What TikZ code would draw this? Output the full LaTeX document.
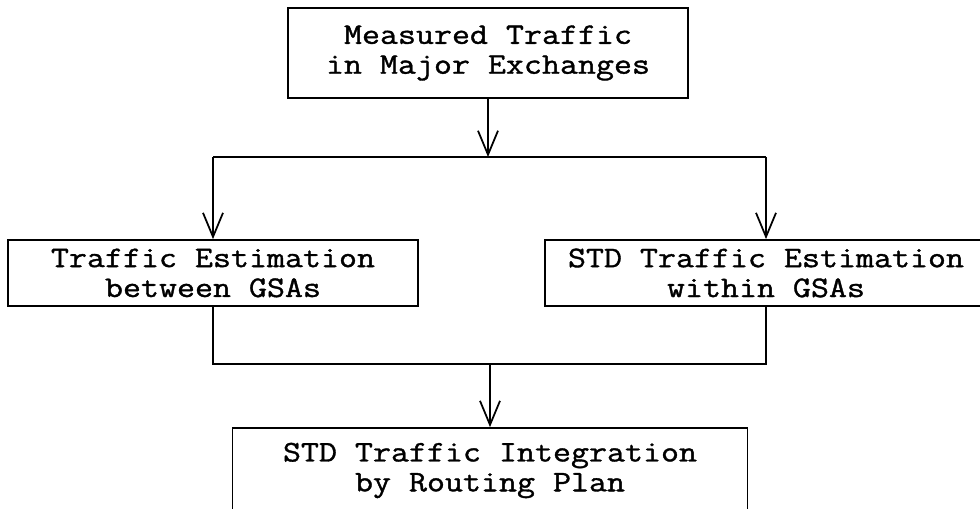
\documentclass[tikz,border=0pt]{standalone}
\usepackage{fontspec}
\setmonofont[FakeStretch=1.17, FakeBold=1.2]{Latin Modern Mono}
\usepackage{tikz}
\usetikzlibrary{arrows, arrows.meta}

\begin{document}
\begin{tikzpicture}[
  box/.style={draw, line width=1pt, inner sep=0pt, align=center,
    font=\ttfamily\fontsize{17}{17}\selectfont},
  flow/.style={line width=1pt},
  arr/.style={flow, -{Straight Barb[length=4.8mm,width=4mm,line width=1pt]}}
]
\useasboundingbox (0,0) rectangle (19.6,10.16);
\node[box, minimum width=8.0cm, minimum height=1.8cm] (meas) at (9.76,9.10)
  {Measured Traffic\\in Major Exchanges};
\node[box, minimum width=8.2cm, minimum height=1.32cm] (between) at (4.26,4.70)
  {Traffic Estimation\\between GSAs};
\node[box, minimum width=8.84cm, minimum height=1.32cm] (within) at (15.32,4.70)
  {STD Traffic Estimation\\within GSAs};
\node[box, minimum width=10.3cm, minimum height=1.7cm] (integ) at (9.80,0.75)
  {STD Traffic Integration\\by Routing Plan};
\coordinate (split) at (9.76,7.02);
\coordinate (join) at (9.80,2.88);
\draw[arr] (meas.south) -- (split);
\draw[flow] (between.north |- split) -- (within.north |- split);
\draw[arr] (between.north |- split) -- (between.north);
\draw[arr] (within.north |- split) -- (within.north);
\draw[flow] (between.south) |- (join) -| (within.south);
\draw[arr] (join) -- (integ.north);
\end{tikzpicture}
\end{document}
